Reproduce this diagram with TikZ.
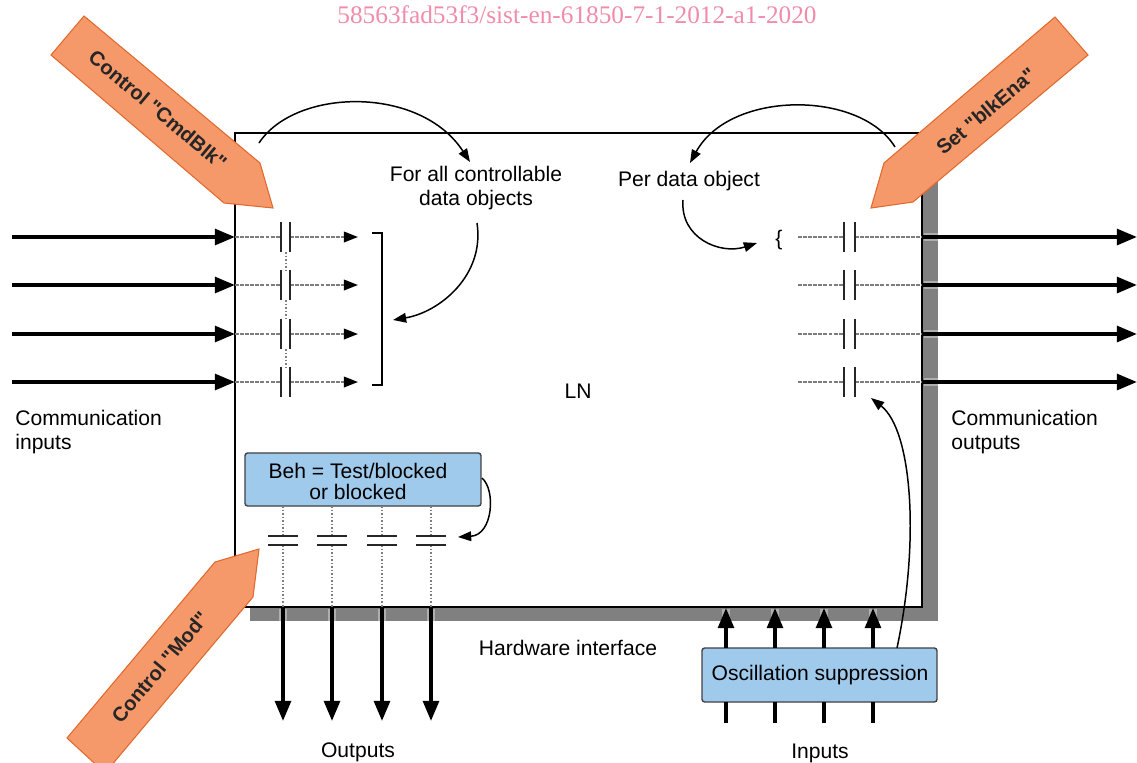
\documentclass[tikz,border=0pt]{standalone}
\usepackage{fontspec}
\setmainfont{Liberation Sans}
\newfontfamily\wmfont{Liberation Serif}
\usetikzlibrary{arrows.meta}
\definecolor{orfill}{RGB}{245,152,106}
\definecolor{ordraw}{RGB}{225,105,45}
\definecolor{bluefill}{RGB}{160,202,236}
\definecolor{shadowgray}{RGB}{128,128,128}
\definecolor{halogray}{RGB}{175,175,175}
\definecolor{wmpink}{RGB}{240,140,170}
\definecolor{dashgray}{RGB}{125,125,125}
\begin{document}
\begin{tikzpicture}[x=0.02cm,y=-0.02cm,
  lbl/.style={font=\fontsize{12}{14}\selectfont, align=center, inner sep=0pt},
  lblL/.style={font=\fontsize{12}{13.6}\selectfont, align=left, inner sep=0pt, anchor=west},
  thickarrow/.style={line width=2.1pt, -{Triangle[length=11.5pt,width=9pt]}},
  thickline/.style={line width=2.1pt},
  halo/.style={halogray, line width=5pt},
  dashl/.style={dashgray, line width=1pt, dash pattern=on 2.2pt off 0.7pt},
  dotl/.style={dashgray, line width=0.8pt, dash pattern=on 1pt off 1pt},
  smallhead/.style={-{Triangle[length=8pt,width=6pt,color=black,fill=black]}},
  curvearrow/.style={line width=0.85pt, -{Triangle[length=7.5pt,width=5.5pt]}},
  cbar/.style={line width=1.4pt, black!85},
  orarrow/.style={fill=orfill, draw=ordraw, line width=0.6pt},
  ortext/.style={font=\fontsize{11.5}{13}\selectfont\bfseries, text=black!85, inner sep=0pt},
  bluebox/.style={fill=bluefill, draw=black!75, line width=0.8pt, rounded corners=1.5pt, inner sep=0pt},
]
\useasboundingbox (0,0) rectangle (1137,762);

% watermark
\node[font=\wmfont\fontsize{14.4}{16}\selectfont, text=wmpink, inner sep=0pt] (wm) at (577,15) {58563fad53f3/sist-en-61850-7-1-2012-a1-2020};

% shadow and main box
\fill[shadowgray] (250,148) rectangle (938,621);
\node[draw, line width=1.1pt, fill=white, minimum width=13.74cm, minimum height=9.48cm, inner sep=0pt, outer sep=0pt] (ln) at (578.5,370) {};
\node[lbl] (lnlabel) at (578,391) {LN};

% left side: communication inputs
\foreach \y [count=\i] in {237,285,334,382} {
  \coordinate (inS\i) at (12,\y);
  \coordinate (inE\i) at (235,\y);
  \coordinate (lcA\i) at (281,\y);
  \coordinate (lcB\i) at (290,\y);
  \coordinate (lcE\i) at (358,\y);
  \draw[thickarrow] (inS\i) -- (inE\i);
  \draw[dashl] (inE\i) -- (lcA\i);
  \draw[dashl, smallhead] (lcB\i) -- (lcE\i);
  \draw[cbar] (281,\y-15) -- (281,\y+15);
  \draw[cbar] (290,\y-15) -- (290,\y+15);
}
\draw[dotl] (286,252) -- (286,270);
\draw[dotl] (286,300) -- (286,319);
\draw[dotl] (286,349) -- (286,367);
% bracket
\coordinate (brT) at (372,233);
\coordinate (brB) at (372,385);
\draw[line width=0.9pt] (brT) -- (382,233) -- (382,385) -- (brB);

% right side: communication outputs
\foreach \y [count=\i] in {237,285,334,382} {
  \coordinate (rcS\i) at (798,\y);
  \coordinate (rcA\i) at (844,\y);
  \coordinate (rcB\i) at (855,\y);
  \coordinate (outS\i) at (922,\y);
  \coordinate (outE\i) at (1137,\y);
  \draw[dashl] (rcS\i) -- (rcA\i);
  \draw[dashl] (rcB\i) -- (outS\i);
  \draw[cbar] (844,\y-15) -- (844,\y+15);
  \draw[cbar] (855,\y-15) -- (855,\y+15);
  \draw[halo] (923.5,\y) -- (937.5,\y);
  \draw[thickarrow] (outS\i) -- (outE\i);
}
\node[lbl] (brace) at (779,240) {\{};

% Beh box and binary outputs
\node[bluebox, minimum width=4.72cm, minimum height=1.06cm] (beh) at (363,479.5) {};
\node[lbl] (behtext) at (358,481) {Beh = Test/blocked\\[-2pt]or blocked};
\foreach \x [count=\i] in {283,332,382,431} {
  \coordinate (boT\i) at (\x,506);
  \coordinate (boA\i) at (\x,536);
  \coordinate (boB\i) at (\x,545);
  \coordinate (boS\i) at (\x,607);
  \coordinate (boE\i) at (\x,721);
  \draw[dotl] (boT\i) -- (boA\i);
  \draw[dotl] (boB\i) -- (boS\i);
  \draw[cbar] (\x-15,536) -- (\x+15,536);
  \draw[cbar] (\x-15,545) -- (\x+15,545);
  \draw[halo] (\x,608.5) -- (\x,620.5);
  \draw[thickarrow] (boS\i) -- (boE\i);
}

% Oscillation suppression and binary inputs
\node[bluebox, minimum width=4.7cm, minimum height=1.08cm] (osc) at (819.5,675) {};
\node[lbl] (osctext) at (820,675) {Oscillation suppression};
\foreach \x [count=\i] in {726,775,824,873} {
  \coordinate (biS\i) at (\x,723);
  \coordinate (biB\i) at (\x,702);
  \coordinate (biT\i) at (\x,648);
  \coordinate (biE\i) at (\x,608);
  \draw[thickline] (biS\i) -- (biB\i);
  \draw[halo] (\x,608.5) -- (\x,620.5);
  \draw[thickarrow] (biT\i) -- (biE\i);
}

% labels
\node[lblL] (cin) at (15,432) {Communication\\inputs};
\node[lblL] (cout) at (951,432) {Communication\\outputs};
\node[lbl] (forall) at (476,188) {For all controllable\\data objects};
\node[lbl] (perdo) at (689,181) {Per data object};
\node[lbl] (hwi) at (568,648) {Hardware interface};
\node[lbl] (outs) at (358,752) {Outputs};
\node[lbl] (ins) at (820,753) {Inputs};

% curved arrows
\coordinate (c1s) at (259,143);
\coordinate (c1e) at (470,162);
\draw[curvearrow] (c1s) .. controls (295,88) and (420,85) .. (c1e);
\coordinate (c2s) at (477,223);
\coordinate (c2e) at (393,320);
\draw[curvearrow] (c2s) .. controls (485,275) and (440,312) .. (c2e);
\coordinate (c3s) at (895,147);
\coordinate (c3e) at (690,163);
\draw[curvearrow] (c3s) .. controls (860,90) and (730,90) .. (c3e);
\coordinate (c4s) at (683,200);
\coordinate (c4e) at (757,243);
\draw[curvearrow] (c4s) .. controls (680,238) and (720,255) .. (c4e);
\coordinate (c5s) at (482,478);
\coordinate (c5e) at (458,537);
\draw[curvearrow] (c5s) .. controls (496,490) and (493,535) .. (c5e);
\coordinate (c6s) at (897,648);
\coordinate (c6e) at (871,398);
\draw[curvearrow] (c6s) .. controls (920,540) and (912,430) .. (c6e);

% orange control arrows
\draw[orarrow] (84,16) -- (260,163) -- (273,208) -- (224,203) -- (51,55) -- cycle;
\node[ortext, rotate=-40] (cmdblk) at (158,110) {Control \textquotedbl CmdBlk\textquotedbl};
\draw[orarrow] (1055,17) -- (884,163) -- (871,208) -- (913,202) -- (1088,55) -- cycle;
\node[ortext, rotate=40] (blkena) at (986,111) {Set \textquotedbl blkEna\textquotedbl};
\draw[orarrow] (67,738) -- (215,562) -- (259,549) -- (253,597) -- (105,773) -- cycle;
\node[ortext, rotate=50] (mod) at (160,667) {Control \textquotedbl Mod\textquotedbl};
\end{tikzpicture}
\end{document}
